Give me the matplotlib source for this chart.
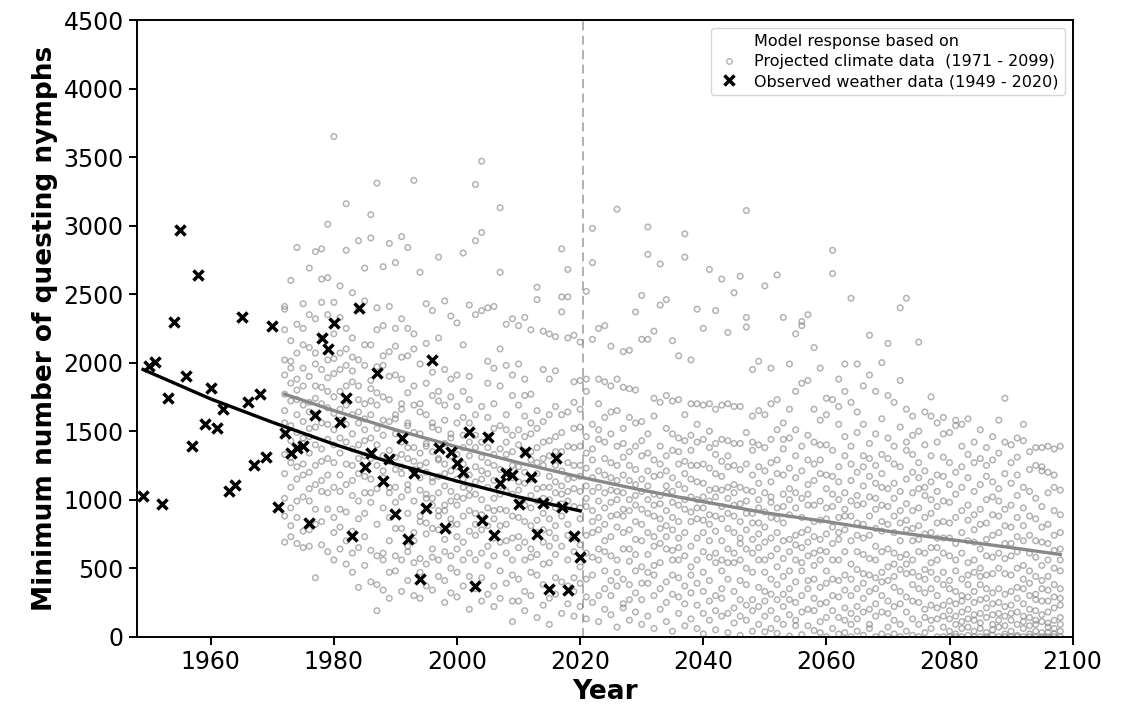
import matplotlib
matplotlib.use("Agg")
import matplotlib.pyplot as plt
from matplotlib.lines import Line2D

# observed weather data (1949 - 2020), one value per year
obs_years = list(range(1949, 2021))
obs_values = [
    1030, 1975, 2005, 965, 1740, 2300, 2970, 1900, 1395, 2640,
    1555, 1815, 1525, 1660, 1065, 1110, 2330, 1715, 1255, 1770,
    1310, 2265, 945, 1490, 1340, 1375, 1395, 833, 1618, 2177,
    2097, 2291, 1570, 1740, 736, 2401, 1237, 1344, 1922, 1137,
    1298, 897, 1448, 712, 1198, 423, 940, 2019, 1375, 792,
    1351, 1266, 1205, 1497, 367, 853, 1456, 744, 1125, 1198,
    1181, 970, 1351, 1169, 751, 979, 350, 1303, 945, 343,
    738, 585,
]

obs_fit_years = [1949, 1960, 1970, 1980, 1990, 2000, 2010, 2020]
obs_fit_values = [1950, 1735, 1565, 1405, 1260, 1135, 1020, 918]

# fitted trend of the projected data
proj_fit_years = [1972, 1980, 1990, 2000, 2010, 2020, 2030, 2040,
                  2050, 2060, 2070, 2080, 2090, 2098]
proj_fit_values = [1770, 1650, 1510, 1385, 1270, 1165, 1070, 985,
                   905, 840, 770, 710, 650, 600]

# model response on projected climate data, 14 values per year (1972 - 2098)
proj_first_year = 1972
proj_1970s = [
    [1480, 2390, 880, 1650, 1190, 2020, 690, 1770, 1330, 2240, 1010, 1560, 1910, 2410],
    [1720, 940, 2160, 1310, 730, 1850, 1540, 2600, 1090, 1430, 2010, 1270, 1960, 810],
    [2840, 1150, 1620, 990, 1880, 1380, 2280, 680, 1730, 1240, 2070, 1490, 870, 1800],
    [1260, 2130, 770, 1690, 1410, 1960, 1020, 2430, 1570, 1180, 1830, 650, 1450, 2250],
    [990, 1710, 2690, 1340, 660, 1900, 1520, 2110, 1200, 780, 1640, 2350, 1080, 1460],
    [1620, 430, 2810, 1250, 1830, 930, 2070, 1400, 1740, 1110, 2320, 820, 1530, 1990],
    [2830, 1370, 840, 1950, 1560, 2180, 1060, 1700, 670, 2440, 1280, 1820, 2610, 1140],
    [1180, 3010, 1670, 930, 2020, 1440, 620, 1790, 2350, 1300, 1890, 1050, 2620, 1550],
]
proj_1980s = [
    [3650, 1400, 2210, 870, 1630, 560, 1920, 1270, 2440, 1090, 1750, 760, 1510, 2030],
    [1060, 2560, 1790, 640, 1340, 2070, 1180, 1580, 930, 2330, 1450, 1950, 800, 1660],
    [2820, 1110, 1690, 530, 3160, 1420, 2250, 910, 1830, 1260, 700, 1980, 1550, 2100],
    [1250, 2510, 770, 1860, 1480, 470, 2180, 1030, 1620, 1940, 1140, 610, 2040, 1370],
    [2890, 1400, 860, 1730, 360, 2390, 1190, 1560, 990, 2020, 650, 1640, 1300, 1830],
    [1170, 2690, 1510, 730, 1980, 1320, 520, 2130, 1050, 1700, 1430, 2450, 900, 1590],
    [2910, 1450, 630, 1810, 1150, 3080, 980, 2130, 1620, 400, 1300, 1870, 1050, 1720],
    [3310, 1400, 190, 1970, 820, 1250, 2400, 590, 1690, 1080, 2240, 1520, 380, 1780],
    [1210, 2700, 610, 1470, 1980, 940, 2270, 1320, 340, 1750, 1160, 2050, 560, 1580],
    [2870, 1280, 700, 1900, 1050, 2080, 470, 1570, 1360, 2410, 870, 1730, 1090, 280],
]
proj_1990s = [
    [1090, 2730, 1620, 480, 1310, 1910, 790, 2120, 1480, 980, 1590, 590, 2250, 1220],
    [2920, 1330, 560, 1880, 1020, 2320, 1700, 790, 1420, 330, 1660, 1190, 2040, 1240],
    [1380, 2840, 660, 1780, 1110, 2050, 410, 1540, 900, 1300, 2250, 620, 1560, 1070],
    [3330, 1280, 540, 1690, 990, 2100, 1490, 300, 1830, 760, 1220, 1380, 2210, 700],
    [1160, 2660, 880, 1640, 470, 1990, 1250, 280, 1480, 1070, 1700, 570, 1340, 840],
    [1200, 2430, 530, 1850, 1010, 1620, 370, 1390, 2140, 830, 1270, 750, 1410, 1040],
    [1010, 2380, 1560, 340, 1350, 1930, 790, 1160, 580, 1760, 1130, 640, 1530, 960],
    [2770, 1050, 1790, 560, 1290, 2180, 880, 1510, 440, 1720, 1170, 920, 1300, 780],
    [1100, 2450, 620, 1580, 960, 1950, 250, 1410, 1260, 710, 1690, 920, 1190, 410],
    [990, 2340, 1450, 590, 1750, 320, 1210, 1880, 860, 1480, 500, 1320, 820, 1060],
]
proj_2000s = [
    [290, 640, 1330, 820, 1910, 1150, 470, 2290, 1020, 1560, 1240, 730, 1680, 960],
    [2800, 1470, 560, 1090, 370, 1790, 880, 1260, 2130, 690, 1380, 1010, 1600, 1150],
    [200, 1420, 920, 2420, 610, 1730, 1180, 440, 1030, 1560, 770, 1320, 1900, 1080],
    [3300, 560, 1240, 2890, 900, 1620, 350, 1470, 1040, 740, 2350, 1130, 1380, 820],
    [3470, 1000, 2380, 430, 1310, 780, 2950, 1150, 610, 1680, 260, 1420, 890, 1210],
    [310, 1850, 1090, 660, 1460, 2400, 940, 1270, 520, 1600, 1190, 810, 1380, 2010],
    [1520, 720, 2410, 1010, 370, 1330, 860, 1700, 220, 1140, 1960, 590, 1250, 920],
    [3130, 1220, 480, 2660, 930, 1540, 280, 1100, 2100, 690, 1370, 1830, 810, 1040],
    [610, 1980, 1200, 2280, 820, 1420, 390, 1620, 1060, 1330, 700, 1170, 920, 1510],
    [110, 1250, 720, 2320, 1470, 260, 1040, 1760, 560, 1350, 880, 1910, 1160, 450],
]
proj_2010s = [
    [1400, 260, 980, 2270, 650, 1690, 1130, 420, 1510, 870, 1990, 1240, 730, 1070],
    [190, 2330, 1350, 840, 1610, 560, 1120, 1880, 330, 1460, 960, 1200, 690, 1760],
    [1030, 2240, 580, 1350, 300, 1480, 810, 1770, 1150, 640, 1290, 940, 1560, 470],
    [2460, 760, 1190, 2550, 140, 1650, 990, 450, 1380, 1080, 600, 1270, 850, 1520],
    [230, 1570, 1090, 2230, 690, 1420, 900, 1950, 380, 1250, 530, 1010, 1300, 780],
    [1170, 90, 2210, 760, 1430, 540, 1620, 1000, 1880, 280, 1320, 860, 1090, 660],
    [310, 1680, 940, 2190, 1250, 600, 1460, 1050, 430, 1940, 810, 1350, 720, 1130],
    [2370, 880, 1490, 170, 2830, 1100, 660, 1620, 2480, 400, 1210, 970, 1350, 1040],
    [2680, 1150, 240, 2180, 820, 1390, 560, 2480, 990, 1640, 370, 1270, 740, 1060],
    [1520, 150, 1080, 2200, 720, 1380, 430, 1860, 950, 620, 1250, 1710, 330, 1160],
]
proj_2020s = [
    [220, 1250, 860, 2150, 1530, 510, 1060, 1870, 670, 1390, 390, 1170, 940, 1660],
    [2520, 1010, 130, 1460, 740, 1790, 420, 1230, 950, 1880, 610, 1340, 290, 1100],
    [2980, 580, 1290, 2730, 920, 2170, 250, 1550, 1060, 760, 1370, 450, 1160, 840],
    [1440, 110, 990, 2250, 1700, 640, 1210, 300, 1880, 870, 1510, 560, 1090, 780],
    [700, 2270, 1300, 200, 1600, 940, 1180, 480, 1860, 1050, 350, 1420, 820, 620],
    [1070, 1830, 160, 1270, 590, 2120, 880, 1480, 410, 1160, 730, 1640, 980, 300],
    [3120, 890, 1390, 70, 1880, 560, 1060, 1250, 370, 1650, 800, 1140, 470, 1000],
    [1180, 240, 2080, 760, 1520, 930, 1820, 420, 1310, 640, 1050, 210, 1410, 880],
    [550, 1600, 1000, 2090, 120, 1250, 780, 1810, 380, 1350, 920, 640, 1140, 270],
    [2370, 840, 1390, 180, 1030, 1560, 600, 1800, 320, 1220, 960, 480, 1110, 710],
]
proj_2030s = [
    [2490, 700, 1150, 90, 2170, 1320, 510, 930, 1570, 270, 1060, 820, 1430, 390],
    [2990, 1000, 390, 2790, 760, 1480, 150, 2170, 1210, 600, 1340, 900, 470, 1100],
    [1290, 60, 880, 2230, 1610, 520, 1040, 300, 1740, 730, 1170, 450, 960, 660],
    [2720, 1180, 540, 2420, 200, 1390, 860, 1710, 350, 1030, 680, 1260, 790, 970],
    [810, 2460, 1100, 110, 1520, 640, 1320, 400, 1760, 920, 250, 1050, 730, 1210],
    [1360, 40, 980, 2160, 560, 1720, 780, 1160, 310, 1480, 870, 630, 1060, 450],
    [650, 2050, 1260, 170, 1450, 840, 1730, 430, 1110, 960, 290, 1350, 720, 560],
    [2940, 930, 1430, 80, 2770, 590, 1190, 370, 1620, 1000, 240, 1280, 760, 1080],
    [1150, 130, 2020, 840, 1470, 510, 1700, 660, 1250, 320, 1020, 910, 450, 1360],
    [2390, 720, 60, 1550, 1000, 1250, 390, 1700, 560, 1130, 230, 1420, 860, 940],
]
proj_2040s = [
    [2250, 20, 940, 1440, 620, 1690, 330, 1120, 760, 1260, 470, 1020, 170, 850],
    [2680, 1070, 120, 1380, 580, 1700, 890, 410, 1230, 700, 1500, 260, 990, 820],
    [540, 2380, 1190, 50, 1410, 770, 1660, 300, 1020, 610, 1330, 880, 190, 1080],
    [2610, 860, 1280, 150, 1690, 480, 1070, 700, 1440, 350, 950, 1170, 560, 280],
    [1240, 30, 2220, 640, 1700, 900, 1090, 420, 1430, 790, 170, 1010, 540, 1320],
    [2510, 760, 1410, 100, 1680, 540, 1110, 330, 1250, 880, 610, 960, 210, 1050],
    [2630, 10, 1220, 680, 1680, 410, 970, 1410, 270, 840, 1090, 560, 720, 150],
    [3110, 2330, 900, 2260, 120, 1260, 640, 990, 380, 1070, 780, 1490, 500, 230],
    [1180, 40, 1950, 710, 1360, 470, 1610, 900, 270, 1060, 610, 830, 190, 1420],
    [2010, 650, 1240, 90, 1650, 830, 1000, 360, 1400, 560, 940, 220, 1120, 750],
]
proj_2050s = [
    [2560, 1210, 470, 35, 1620, 910, 330, 1380, 690, 150, 1050, 560, 800, 260],
    [1960, 720, 1440, 190, 980, 1130, 420, 1700, 60, 870, 310, 1270, 590, 1020],
    [2640, 380, 1510, 860, 25, 1190, 640, 1730, 270, 940, 510, 1290, 130, 760],
    [2330, 1040, 570, 1370, 220, 830, 1560, 90, 700, 1180, 440, 950, 310, 1440],
    [1990, 480, 1230, 5, 890, 1660, 350, 710, 1080, 160, 1450, 620, 1000, 270],
    [2210, 1320, 740, 120, 1050, 400, 1790, 560, 940, 250, 1160, 80, 670, 1510],
    [2300, 2270, 1850, 300, 1010, 650, 15, 1210, 480, 870, 1390, 180, 760, 540],
    [2350, 1870, 1110, 410, 780, 1290, 200, 960, 590, 1470, 80, 690, 350, 1040],
    [2110, 1260, 520, 960, 45, 1420, 730, 280, 1140, 610, 1660, 190, 840, 420],
    [1960, 1580, 850, 240, 1190, 560, 1400, 110, 710, 990, 360, 1290, 630, 30],
]
proj_2060s = [
    [1740, 1080, 390, 860, 0, 1400, 620, 250, 1180, 750, 1620, 480, 140, 940],
    [2820, 2650, 1730, 800, 300, 1170, 560, 60, 950, 420, 1360, 680, 190, 1040],
    [1880, 1240, 710, 140, 1000, 410, 1550, 870, 20, 560, 1130, 290, 760, 1680],
    [1990, 1790, 1050, 450, 120, 780, 1320, 620, 210, 930, 1460, 340, 880, 30],
    [2470, 1710, 880, 300, 0, 1140, 530, 1390, 170, 700, 990, 420, 1260, 90],
    [1990, 1490, 620, 1030, 220, 830, 40, 1200, 490, 1640, 350, 740, 960, 130],
    [1830, 820, 1320, 460, 10, 1100, 600, 280, 970, 1550, 390, 720, 180, 1240],
    [2200, 1910, 1170, 570, 60, 880, 330, 1410, 740, 200, 1020, 450, 1300, 90],
    [1790, 1250, 430, 930, 0, 660, 1120, 350, 1480, 150, 790, 560, 1010, 240],
    [2000, 1330, 770, 180, 1090, 470, 1590, 20, 840, 620, 1190, 300, 960, 400],
]
proj_2070s = [
    [2140, 1760, 950, 410, 0, 1300, 640, 170, 1080, 510, 820, 260, 1450, 70],
    [1710, 1120, 360, 760, 20, 1390, 530, 1010, 220, 880, 610, 120, 1260, 440],
    [2400, 1870, 1240, 580, 90, 830, 330, 1060, 700, 0, 490, 1530, 240, 920],
    [2470, 1660, 970, 290, 600, 1360, 40, 780, 460, 1150, 180, 850, 1420, 530],
    [1610, 1200, 700, 130, 1470, 380, 920, 10, 560, 1050, 260, 790, 470, 1330],
    [2150, 1500, 1080, 440, 0, 810, 250, 1270, 620, 90, 940, 350, 710, 1160],
    [1640, 1400, 870, 200, 610, 1030, 30, 490, 1210, 320, 750, 140, 1090, 420],
    [1750, 1610, 760, 1130, 350, 60, 900, 470, 1320, 230, 650, 1000, 120, 540],
    [1560, 1180, 560, 950, 0, 720, 1420, 300, 830, 130, 1060, 420, 650, 210],
    [1600, 1310, 990, 380, 70, 1170, 610, 230, 840, 0, 1480, 470, 720, 150],
]
proj_2080s = [
    [1490, 1270, 830, 410, 0, 590, 130, 980, 260, 40, 720, 350, 1110, 190],
    [1580, 1540, 1040, 680, 20, 330, 870, 150, 480, 0, 1200, 240, 560, 90],
    [1550, 1390, 760, 260, 0, 1090, 420, 60, 920, 180, 610, 300, 1240, 110],
    [1590, 1160, 540, 10, 850, 290, 1330, 130, 700, 380, 960, 70, 450, 200],
    [1420, 1060, 690, 120, 0, 470, 1270, 250, 890, 40, 560, 330, 780, 160],
    [1510, 1300, 930, 380, 60, 640, 170, 1110, 0, 500, 820, 270, 100, 440],
    [1380, 1170, 590, 0, 830, 280, 1000, 140, 450, 30, 710, 350, 210, 1250],
    [1460, 1020, 740, 240, 10, 1290, 460, 90, 890, 320, 580, 160, 1130, 50],
    [1580, 1340, 880, 170, 0, 610, 350, 1080, 70, 500, 250, 760, 120, 990],
    [1740, 1190, 680, 310, 20, 930, 150, 1420, 460, 80, 810, 220, 570, 0],
]
proj_2090s = [
    [1400, 1120, 800, 230, 0, 590, 1270, 120, 450, 40, 960, 330, 680, 170],
    [1450, 1310, 620, 10, 1030, 280, 870, 90, 500, 180, 730, 360, 0, 1180],
    [1550, 1430, 940, 350, 0, 700, 150, 1090, 60, 520, 240, 810, 110, 420],
    [1350, 1060, 740, 20, 480, 200, 1220, 80, 610, 300, 880, 140, 0, 390],
    [1380, 1250, 580, 120, 0, 860, 310, 1010, 40, 440, 190, 700, 90, 270],
    [1380, 1210, 1240, 410, 30, 690, 160, 950, 0, 520, 260, 800, 110, 350],
    [1390, 1200, 820, 260, 0, 1050, 100, 560, 340, 30, 680, 180, 440, 70],
    [1370, 1090, 630, 60, 920, 380, 0, 740, 210, 500, 120, 1180, 290, 20],
    [1390, 1070, 890, 350, 0, 640, 140, 480, 40, 760, 230, 560, 90, 280],
]

x_ticks = [1960, 1980, 2000, 2020, 2040, 2060, 2080, 2100]
y_ticks = [0, 500, 1000, 1500, 2000, 2500, 3000, 3500, 4000, 4500]

proj_rows = (proj_1970s + proj_1980s + proj_1990s + proj_2000s + proj_2010s
             + proj_2020s + proj_2030s + proj_2040s + proj_2050s + proj_2060s
             + proj_2070s + proj_2080s + proj_2090s)
proj_x = []
proj_y = []
for i, row in enumerate(proj_rows):
    proj_x.extend([proj_first_year + i] * len(row))
    proj_y.extend(row)

fig = plt.figure(figsize=(11.22, 7.17), dpi=100)
ax = fig.add_axes([0.122, 0.112, 0.834, 0.860])

ax.scatter(proj_x, proj_y, s=16, facecolors="none", edgecolors="gray",
           linewidths=1.1, alpha=0.6, zorder=2)
ax.plot(proj_fit_years, proj_fit_values, color="#888888", lw=2.4, zorder=3)
ax.scatter(obs_years, obs_values, marker="x", s=52, color="black",
           linewidths=2.5, zorder=4)
ax.plot(obs_fit_years, obs_fit_values, color="black", lw=2.4, zorder=4)
ax.axvline(2020.5, color="#aaaaaa", ls=(0, (5, 3)), lw=1.3, zorder=1)

ax.set_xlim(1948, 2100)
ax.set_ylim(0, 4500)
ax.set_xticks(x_ticks)
ax.set_yticks(y_ticks)
ax.tick_params(labelsize=17, width=1.4, length=6)
for spine in ax.spines.values():
    spine.set_linewidth(1.4)
ax.set_xlabel("Year", fontsize=19, fontweight="bold")
ax.set_ylabel("Minimum number of questing nymphs", fontsize=19,
              fontweight="bold")

handles = [
    Line2D([], [], linestyle="none", marker=None),
    Line2D([], [], linestyle="none", marker="o", markersize=4,
           markerfacecolor="none", markeredgecolor="gray", alpha=0.6),
    Line2D([], [], linestyle="none", marker="x", markersize=7,
           color="black", markeredgewidth=2.5),
]
labels = [
    "Model response based on",
    "Projected climate data  (1971 - 2099)",
    "Observed weather data (1949 - 2020)",
]
ax.legend(handles, labels, loc="upper right", fontsize=11.5,
          handlelength=1.5, labelspacing=0.3)

fig.savefig("out.png", dpi=100)
